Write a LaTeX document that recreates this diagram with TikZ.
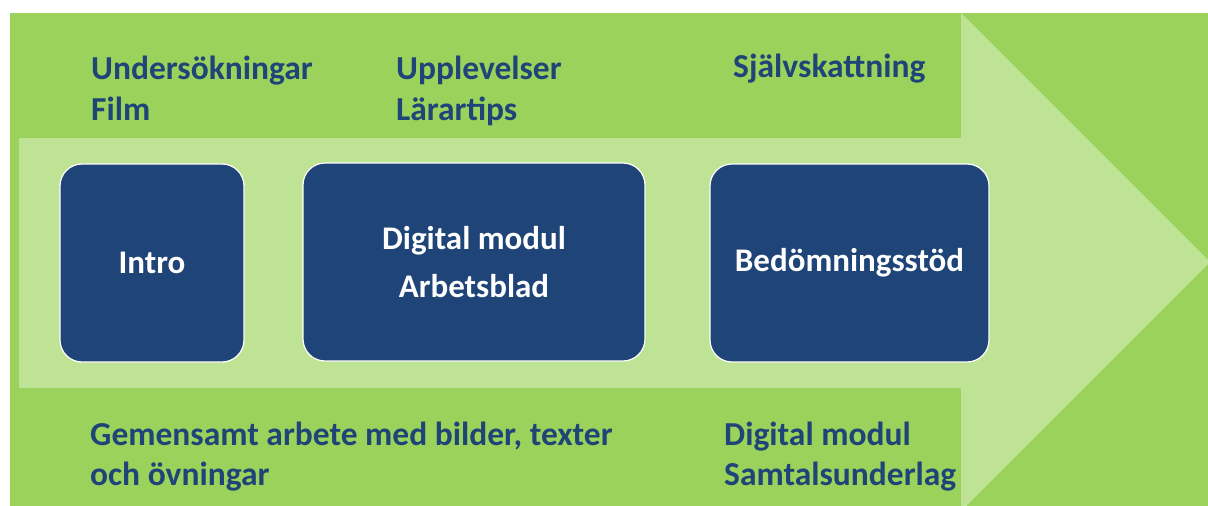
\documentclass[tikz,border=0pt]{standalone}
\usepackage{fontspec}
\setmainfont{Carlito}
\definecolor{bggreen}{HTML}{9BD25C}
\definecolor{lightgreen}{HTML}{BFE395}
\definecolor{darkblue}{HTML}{1F4477}
\begin{document}
\begin{tikzpicture}[x=1pt,y=-1pt,
  lbl/.style={anchor=base west,inner sep=0pt,text=darkblue,font=\fontsize{33.5}{41}\selectfont\bfseries},
  stage/.style={draw=white,line width=1.2pt,fill=darkblue,rounded corners=22pt,text=white,align=center,
    font=\fontsize{33}{48}\selectfont\bfseries,inner sep=0pt}]
\useasboundingbox (0,0) rectangle (1208,506);
\clip (0,0) rectangle (1208,506);
\fill[bggreen] (10,13) rectangle (1210,510);
\fill[lightgreen] (19,138) -- (961,138) -- (961,13) -- (1210,262) -- (961,511) -- (961,388) -- (19,388) -- cycle;
\node[stage,minimum width=184pt,minimum height=198pt] (intro) at (152,263) {Intro};
\node[stage,minimum width=342pt,minimum height=198pt] (digital) at (474,262) {Digital modul\\Arbetsblad};
\node[stage,minimum width=279pt,minimum height=198pt] (bedom) at (849.5,263) {Bedömningsstöd};
\node[lbl] (t1a) at (91,79) {Undersökningar};
\node[lbl] (t1b) at (91,120) {Film};
\node[lbl] (t2a) at (396,79) {Upplevelser};
\node[lbl] (t2b) at (396,120) {Lärartips};
\node[lbl] (t3a) at (733,77) {Självskattning};
\node[lbl] (b1a) at (90,445) {Gemensamt arbete med bilder, texter};
\node[lbl] (b1b) at (90,485) {och övningar};
\node[lbl] (b2a) at (724,445) {Digital modul};
\node[lbl] (b2b) at (724,485) {Samtalsunderlag};
\end{tikzpicture}
\end{document}
